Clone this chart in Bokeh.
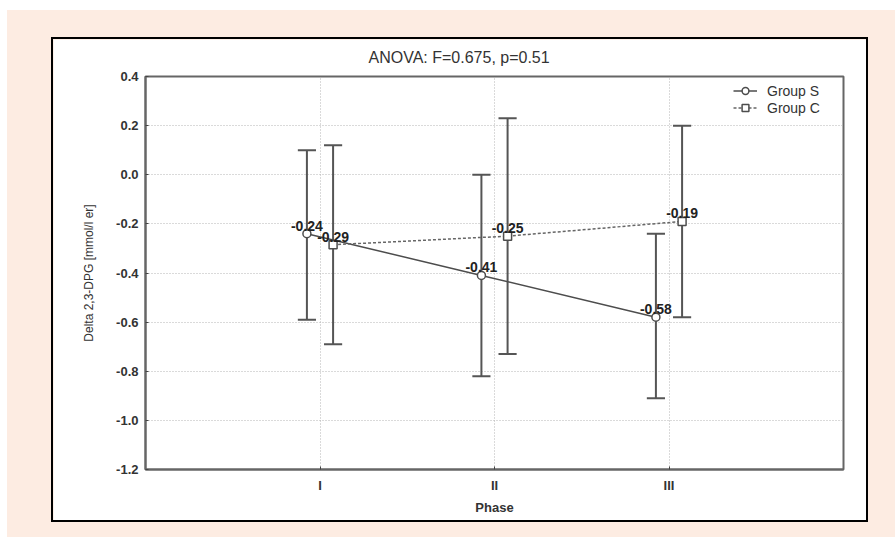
from bokeh.plotting import figure
from bokeh.models import (ColumnDataSource, FixedTicker, PrintfTickFormatter,
                          LabelSet, Legend, LegendItem, Range1d)
from bokeh.core.properties import value
from bokeh.layouts import column
from bokeh.embed import file_html
from bokeh.resources import INLINE

# ---- data ----
title_text = "ANOVA: F=0.675, p=0.51"
phases = ["I", "II", "III"]
phase_pos = [1, 2, 3]
s_mean = [-0.24, -0.41, -0.58]
s_upper = [0.10, 0.00, -0.24]
s_lower = [-0.59, -0.82, -0.91]
c_mean = [-0.285, -0.25, -0.19]
c_labels = ["-0.29", "-0.25", "-0.19"]
c_upper = [0.12, 0.23, 0.20]
c_lower = [-0.69, -0.73, -0.58]
y_ticks = [0.4, 0.2, 0.0, -0.2, -0.4, -0.6, -0.8, -1.0, -1.2]

FONT = "Liberation Sans"
DARK = "#4d4d4d"
OFF = 0.075
CAP = 0.052

p = figure(width=817, height=485, output_backend="svg", toolbar_location=None,
           x_range=Range1d(0, 4), y_range=Range1d(-1.2, 0.4),
           min_border_left=92, min_border_right=27, min_border_top=37, min_border_bottom=55,
           background_fill_color="white", border_fill_color="white")

p.title.text = title_text
p.title.align = "left"
p.title.offset = 223
p.title.vertical_align = "top"
p.title.text_font = FONT
p.title.text_font_size = "16px"
p.title.text_font_style = "normal"
p.title.text_color = "#333333"
p.title.standoff = 18

p.outline_line_color = "#666666"
p.outline_line_width = 2

# axes
p.xaxis.ticker = FixedTicker(ticks=phase_pos)
p.xaxis.major_label_overrides = {pos: lab for pos, lab in zip(phase_pos, phases)}
p.yaxis.ticker = FixedTicker(ticks=y_ticks)
p.yaxis.formatter = PrintfTickFormatter(format="%.1f")
for ax in (p.xaxis[0], p.yaxis[0]):
    ax.axis_line_color = "#666666"
    ax.axis_line_width = 2
    ax.major_tick_in = 3
    ax.major_tick_out = 0
    ax.minor_tick_line_color = None
    ax.major_tick_line_color = "#444444"
    ax.major_label_text_font = FONT
    ax.major_label_text_font_size = "13px"
    ax.major_label_text_font_style = "bold"
    ax.major_label_text_color = "#333333"
    ax.axis_label_text_font = FONT
    ax.axis_label_text_color = "#333333"
p.xaxis.axis_label = "Phase"
p.xaxis.axis_label_text_font_size = "13px"
p.xaxis.axis_label_text_font_style = "bold"
p.yaxis.axis_label = "Delta 2,3-DPG [mmol/l er]"
p.yaxis.axis_label_text_font_size = "12px"
p.yaxis.axis_label_text_font_style = "normal"
p.xaxis.major_label_standoff = 8
p.xaxis.axis_label_standoff = 4
p.yaxis.major_label_standoff = 7
p.yaxis.axis_label_standoff = 17

# grid
p.xgrid.ticker = FixedTicker(ticks=phase_pos)
p.ygrid.ticker = FixedTicker(ticks=y_ticks)
for g in (p.xgrid[0], p.ygrid[0]):
    g.grid_line_color = "#b5b5b5"
    g.grid_line_dash = "1 2"
    g.grid_line_width = 1

# sources
s_x = [x - OFF for x in phase_pos]
c_x = [x + OFF for x in phase_pos]
src_s = ColumnDataSource(dict(x=s_x, y=s_mean, up=s_upper, lo=s_lower,
                              cl=[x - CAP for x in s_x], cr=[x + CAP for x in s_x],
                              lab=["%.2f" % v for v in s_mean]))
src_c = ColumnDataSource(dict(x=c_x, y=c_mean, up=c_upper, lo=c_lower,
                              cl=[x - CAP for x in c_x], cr=[x + CAP for x in c_x],
                              lab=c_labels))

for src in (src_s, src_c):
    p.segment(x0="x", y0="lo", x1="x", y1="up", source=src, line_color="#555555", line_width=2)
    p.segment(x0="cl", y0="up", x1="cr", y1="up", source=src, line_color="#555555", line_width=2)
    p.segment(x0="cl", y0="lo", x1="cr", y1="lo", source=src, line_color="#555555", line_width=2)

ls = p.line("x", "y", source=src_s, line_color=DARK, line_width=1.5)
lc = p.line("x", "y", source=src_c, line_color="#666666", line_width=1.5, line_dash="3 2")
ms = p.scatter("x", "y", source=src_s, marker="circle", size=8, fill_color="white",
               line_color=DARK, line_width=1.5)
mc = p.scatter("x", "y", source=src_c, marker="square", size=8, fill_color="white",
               line_color=DARK, line_width=1.5)

for src in (src_s, src_c):
    p.add_layout(LabelSet(x="x", y="y", text="lab", source=src, text_align="center",
                          text_baseline="bottom", y_offset=3, text_font=value(FONT),
                          text_font_size=value("14px"), text_font_style=value("bold"),
                          text_color=value("#222222")))

legend = Legend(items=[LegendItem(label="Group S", renderers=[ls, ms]),
                       LegendItem(label="Group C", renderers=[lc, mc])],
                location="top_right", border_line_color=None,
                background_fill_alpha=0.0, label_text_font=FONT,
                label_text_font_size="14px", label_text_color="#333333",
                glyph_width=24, glyph_height=17, spacing=0, padding=3, margin=6,
                label_standoff=10, label_width=70, label_height=17)
p.add_layout(legend)

p.styles = {"border": "2px solid #000000"}

layout = column(p, width=895, height=537, sizing_mode="fixed",
                styles={"background-color": "#fdece2",
                        "border-top": "10px solid #ffffff",
                        "border-left": "7px solid #ffffff",
                        "padding-left": "44px", "padding-top": "27px",
                        "box-sizing": "border-box"})

open("out.html", "w").write(file_html(layout, INLINE))
